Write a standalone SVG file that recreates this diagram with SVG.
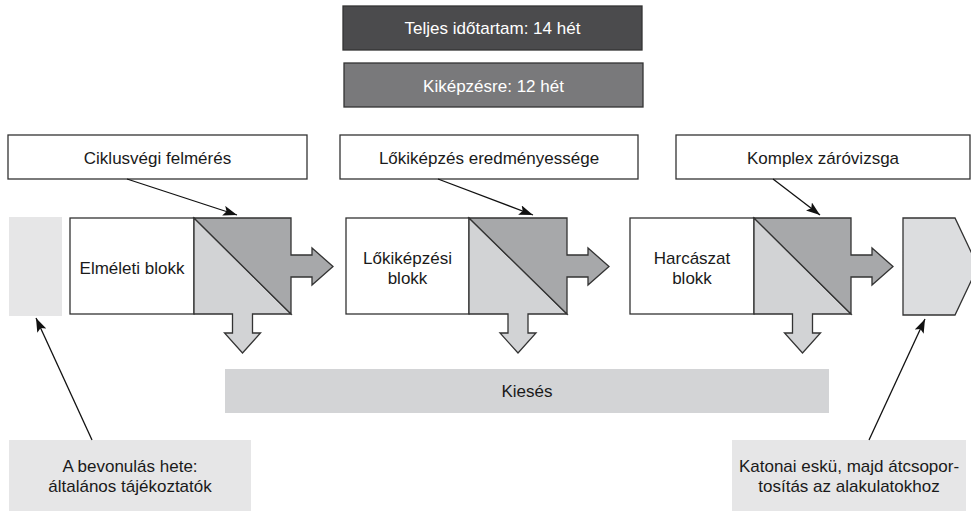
<svg xmlns="http://www.w3.org/2000/svg" width="971" height="511" viewBox="0 0 971 511">
<style>
text{font-family:"Liberation Sans",Arial,sans-serif;font-size:17px;fill:#1a1a1a;text-anchor:middle}
.wt{fill:#ffffff}
.box{fill:#ffffff;stroke:#333;stroke-width:1.3}
.dk{fill:#a7a8aa;stroke:#333;stroke-width:1.3;stroke-linejoin:miter}
.lt{fill:#d2d3d5;stroke:#333;stroke-width:1.3;stroke-linejoin:miter}
.pale{fill:#e6e6e7}
.conn{stroke:#111;stroke-width:1.3;fill:none;marker-end:url(#ah)}
</style>
<defs>
<marker id="ah" viewBox="0 0 14 10" refX="14" refY="5" markerWidth="14" markerHeight="10" markerUnits="userSpaceOnUse" orient="auto">
<path d="M0,0 L14,5 L0,10 L3,5 Z" fill="#111"/>
</marker>
</defs>

<g id="total">
<rect x="343" y="6" width="299" height="44" fill="#4b4b4d" stroke="#333" stroke-width="1.3"/>
<text class="wt" x="492.5" y="34">Teljes időtartam: 14 hét</text>
</g>
<g id="training">
<rect x="344" y="63" width="299" height="44" fill="#79797b" stroke="#333" stroke-width="1.3"/>
<text class="wt" x="493.5" y="92">Kiképzésre: 12 hét</text>
</g>

<g id="label1">
<rect class="box" x="8" y="135" width="299" height="44"/>
<text x="157.5" y="164">Ciklusvégi felmérés</text>
</g>
<g id="label2">
<rect class="box" x="340" y="135" width="298" height="44"/>
<text x="489" y="164">Lőkiképzés eredményessége</text>
</g>
<g id="label3">
<rect class="box" x="676" y="135" width="294" height="44"/>
<text x="823" y="164">Komplex záróvizsga</text>
</g>

<g id="start">
<rect class="pale" x="9" y="217" width="53" height="99"/>
</g>

<g id="block1">
<rect class="box" x="70" y="218" width="124" height="96"/>
<polygon class="lt" points="194,218 291,314 252.5,314 252.5,333 260.5,333 242.5,353 224.5,333 232.5,333 232.5,314 194,314"/>
<polygon class="dk" points="194,218 291,218 291,255 312,255 312,248 333,266.5 312,285 312,277 291,277 291,314"/>
<text x="132" y="274">Elméleti blokk</text>
</g>

<g id="block2">
<rect class="box" x="346" y="218" width="123" height="96"/>
<polygon class="lt" points="469,218 567,314 528,314 528,333 536,333 518,353 500,333 508,333 508,314 469,314"/>
<polygon class="dk" points="469,218 567,218 567,255 588,255 588,248 609,266.5 588,285 588,277 567,277 567,314"/>
<text x="407.5" y="264">Lőkiképzési</text>
<text x="407.5" y="284">blokk</text>
</g>

<g id="block3">
<rect class="box" x="630" y="218" width="124" height="96"/>
<polygon class="lt" points="754,218 851,314 812.5,314 812.5,333 820.5,333 802.5,353 784.5,333 792.5,333 792.5,314 754,314"/>
<polygon class="dk" points="754,218 851,218 851,255 872,255 872,248 893,266.5 872,285 872,277 851,277 851,314"/>
<text x="692" y="264">Harcászat</text>
<text x="692" y="284">blokk</text>
</g>

<g id="end">
<polygon points="903,218 955,218 978,266.5 955,315 903,315" fill="#dcdddf" stroke="#333" stroke-width="1.3"/>
</g>

<g id="dropout">
<rect x="225" y="369" width="604" height="44" fill="#d3d4d6"/>
<text x="527" y="397">Kiesés</text>
</g>

<g id="note1">
<rect class="pale" x="9" y="440" width="242" height="75"/>
<text x="130" y="472">A bevonulás hete:</text>
<text x="130" y="492">általános tájékoztatók</text>
</g>
<g id="note2">
<rect class="pale" x="732" y="440" width="234" height="75"/>
<text x="849" y="472">Katonai eskü, majd átcsopor-</text>
<text x="849" y="492">tosítás az alakulatokhoz</text>
</g>

<g id="connectors">
<line class="conn" x1="127" y1="179" x2="237" y2="215"/>
<line class="conn" x1="438" y1="179" x2="533" y2="215"/>
<line class="conn" x1="773" y1="179" x2="820" y2="215"/>
<line class="conn" x1="92" y1="440" x2="36" y2="318"/>
<line class="conn" x1="869" y1="440" x2="925" y2="319"/>
</g>
</svg>
